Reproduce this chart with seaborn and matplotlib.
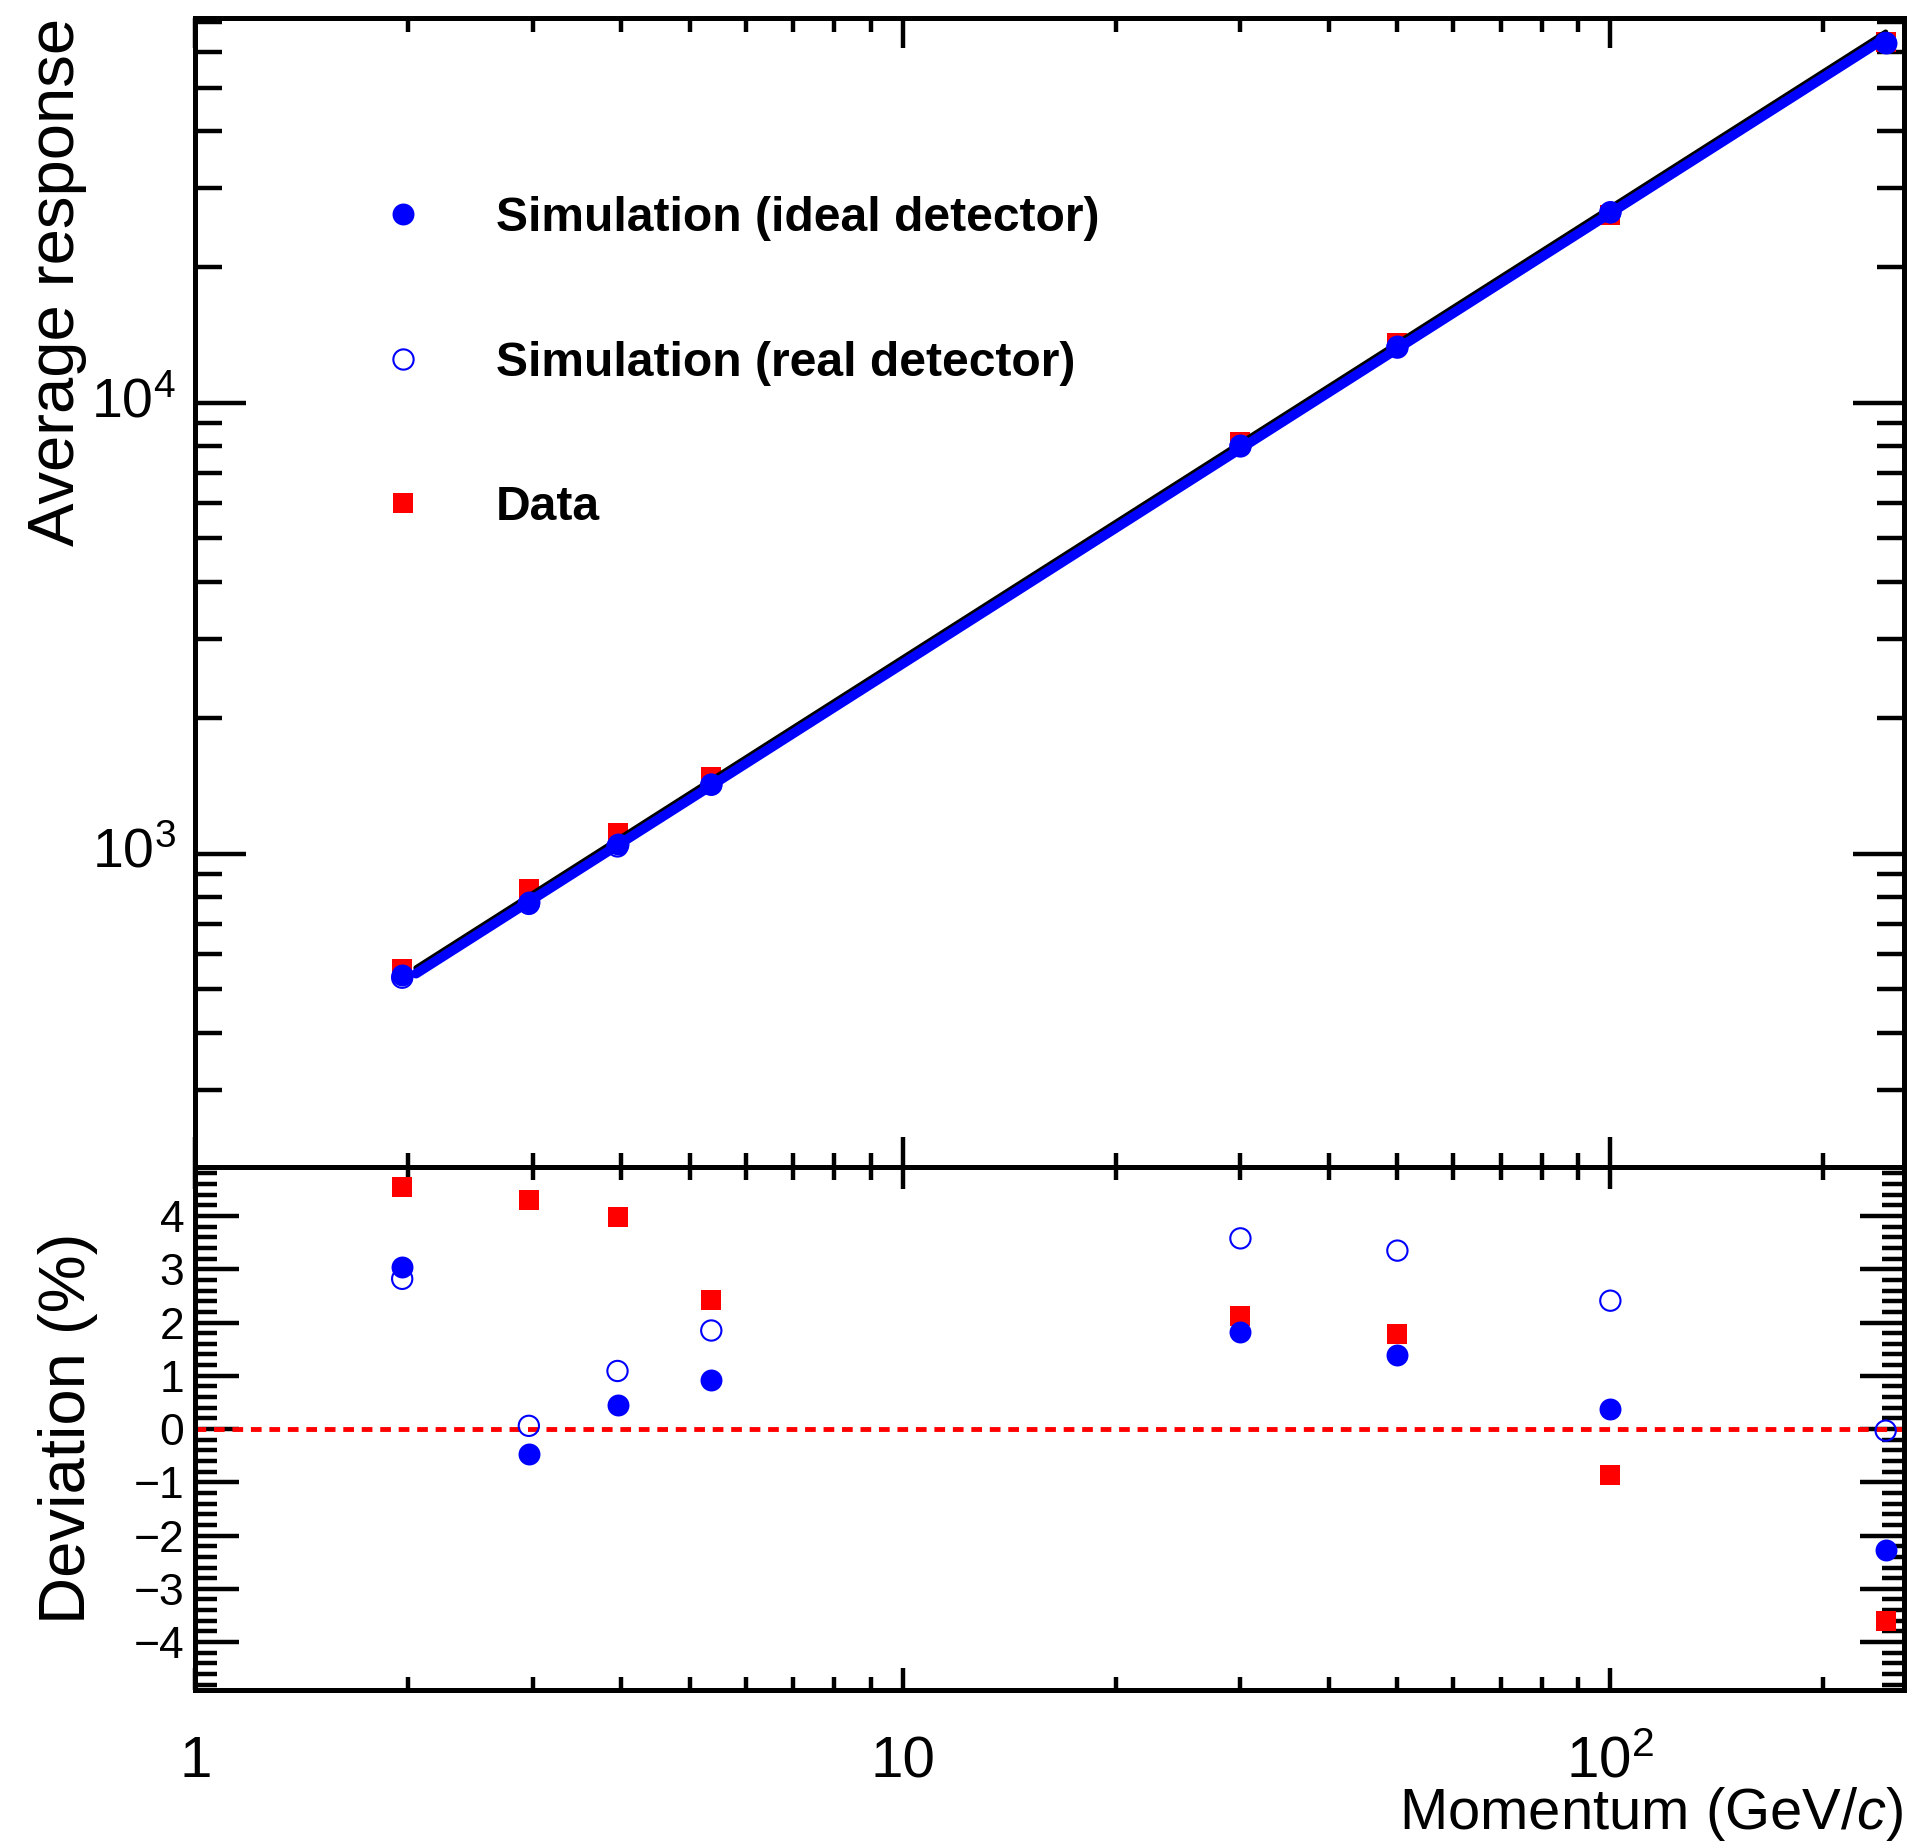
import numpy as np
import matplotlib
matplotlib.use("Agg")
import matplotlib.pyplot as plt
import seaborn as sns
from matplotlib.ticker import FixedLocator, FixedFormatter, NullFormatter, LogLocator, MultipleLocator
from matplotlib.lines import Line2D

# ---------------- data ----------------
momentum = [1.96, 2.96, 3.95, 5.36, 30, 50, 100, 245]
resp_ideal = [539, 780, 1053, 1429, 8041, 13330, 26420, 62900]
resp_real = [531, 774, 1038, 1422, 8000, 13250, 26450, 62800]
resp_data = [556, 835, 1111, 1480, 8166, 13565, 26120, 63200]

dev_ideal = [3.04, -0.46, 0.45, 0.93, 1.82, 1.39, 0.37, -2.28]
dev_real = [2.82, 0.06, 1.09, 1.85, 3.58, 3.35, 2.41, -0.03]
dev_data = [4.54, 4.30, 3.98, 2.43, 2.12, 1.79, -0.87, -3.61]

# power-law fits  a * p^b
fit_sim = [264.7, 0.9988]
fit_data = [272.6, 0.9988]
fit_range = [2.05, 245]

labels = ["Simulation (ideal detector)", "Simulation (real detector)", "Data"]
x_ticks = [1, 10, 100]
x_ticklabels = ["1", "10", r"$10^{2}$"]
y_ticks_top = [1000, 10000]
y_ticklabels_top = [r"$10^{3}$", r"$10^{4}$"]

# ---------------- style ----------------
sns.set_style("white")
plt.rcParams["font.family"] = ["Liberation Sans", "DejaVu Sans"]
plt.rcParams["mathtext.fontset"] = "custom"
plt.rcParams["mathtext.rm"] = "Liberation Sans"
plt.rcParams["mathtext.it"] = "Liberation Sans:italic"
plt.rcParams["mathtext.bf"] = "Liberation Sans:bold"
plt.rcParams["axes.unicode_minus"] = True
for k in ["text.color", "axes.labelcolor", "xtick.color", "ytick.color",
          "xtick.labelcolor", "ytick.labelcolor", "axes.edgecolor"]:
    plt.rcParams[k] = "black"

FRAME_LW = 3.6
TICK_W = 3.2

fig = plt.figure(figsize=(19.16, 18.42), dpi=100)
ax1 = fig.add_axes([0.1020, 0.36645, 0.8917, 0.62378])
ax2 = fig.add_axes([0.1020, 0.08252, 0.8917, 0.28393])

for ax in (ax1, ax2):
    ax.set_xscale("log")
    for s in ax.spines.values():
        s.set_linewidth(FRAME_LW)
        s.set_color("black")
        s.set_visible(True)
    ax.set_facecolor("white")
ax1.set_yscale("log")

# ---------------- upper panel ----------------
sns.scatterplot(x=momentum, y=resp_data, ax=ax1, marker="s", color="red",
                s=14.4 ** 2, linewidth=0, zorder=2)
p_line = np.geomspace(fit_range[0], fit_range[1], 60)
sns.lineplot(x=p_line, y=fit_data[0] * p_line ** fit_data[1], ax=ax1,
             color="black", lw=3.8, zorder=3)
sns.lineplot(x=p_line, y=fit_sim[0] * p_line ** fit_sim[1], ax=ax1,
             color="blue", lw=7.0, zorder=3.5)
sns.scatterplot(x=momentum, y=resp_real, ax=ax1, marker="o", facecolor="none",
                edgecolor="blue", color="blue", s=14.6 ** 2, linewidth=1.5, zorder=4)
sns.scatterplot(x=momentum, y=resp_ideal, ax=ax1, marker="o", color="blue",
                s=15.8 ** 2, linewidth=0, zorder=5)

ax1.set_xlim(1, 260)
ax1.set_ylim(202, 71300)
ax1.set_xlabel("")
ax1.set_ylabel("")

ax1.xaxis.set_major_locator(FixedLocator(x_ticks))
ax1.xaxis.set_minor_locator(LogLocator(base=10, subs=range(2, 10), numticks=20))
ax1.xaxis.set_major_formatter(NullFormatter())
ax1.xaxis.set_minor_formatter(NullFormatter())
ax1.yaxis.set_major_locator(FixedLocator(y_ticks_top))
ax1.yaxis.set_major_formatter(FixedFormatter(y_ticklabels_top))
ax1.yaxis.set_minor_locator(LogLocator(base=10, subs=range(2, 10), numticks=20))
ax1.yaxis.set_minor_formatter(NullFormatter())

ax1.tick_params(which="both", direction="in", top=True, bottom=True, left=True,
                right=True, labelbottom=False, width=TICK_W, color="black",
                labelcolor="black")
ax1.tick_params(axis="x", which="major", length=21.6)
ax1.tick_params(axis="x", which="minor", length=10)
ax1.tick_params(axis="y", which="major", length=37, labelsize=40, pad=14)
ax1.tick_params(axis="y", which="minor", length=19.5)
for lbl in ax1.get_yticklabels():
    lbl.set_va("center")

handles = [
    Line2D([], [], marker="o", ls="", color="blue", ms=15.8, mew=0),
    Line2D([], [], marker="o", ls="", mfc="none", mec="blue", mew=1.5, ms=14.6),
    Line2D([], [], marker="s", ls="", color="red", ms=14.4, mew=0),
]
leg = ax1.legend(handles, labels, loc="upper left", bbox_to_anchor=(0.107, 0.845),
                 frameon=False, borderpad=0, borderaxespad=0, handlelength=1.05,
                 handletextpad=1.4, labelspacing=2.07,
                 prop={"family": "Liberation Sans", "weight": "bold", "size": 34.6})
for t in leg.get_texts():
    t.set_color("black")

# ---------------- lower panel ----------------
ax2.axhline(0, color="red", ls=(0, (2.2, 1.6)), lw=3.5, zorder=1)
sns.scatterplot(x=momentum, y=dev_data, ax=ax2, marker="s", color="red",
                s=14.4 ** 2, linewidth=0, zorder=2)
sns.scatterplot(x=momentum, y=dev_real, ax=ax2, marker="o", facecolor="none",
                edgecolor="blue", color="blue", s=14.6 ** 2, linewidth=1.5, zorder=4)
sns.scatterplot(x=momentum, y=dev_ideal, ax=ax2, marker="o", color="blue",
                s=15.8 ** 2, linewidth=0, zorder=5)

ax2.set_xlim(1, 260)
ax2.set_ylim(-4.9, 4.92)
ax2.set_xlabel("")
ax2.set_ylabel("")

ax2.xaxis.set_major_locator(FixedLocator(x_ticks))
ax2.xaxis.set_major_formatter(FixedFormatter(x_ticklabels))
ax2.xaxis.set_minor_locator(LogLocator(base=10, subs=range(2, 10), numticks=20))
ax2.xaxis.set_minor_formatter(NullFormatter())
ax2.yaxis.set_major_locator(MultipleLocator(1))
ax2.yaxis.set_minor_locator(MultipleLocator(0.2))

ax2.tick_params(which="both", direction="in", top=True, bottom=True, left=True,
                right=True, width=TICK_W, color="black", labelcolor="black")
ax2.tick_params(axis="x", which="major", length=16, labelsize=42, pad=63)
ax2.tick_params(axis="x", which="minor", length=9.5)
ax2.tick_params(axis="y", which="major", length=32, labelsize=32, pad=8)
ax2.tick_params(axis="y", which="minor", length=16)
for lbl in ax2.get_xticklabels():
    lbl.set_va("baseline")

# ---------------- axis titles ----------------
fig.text(74 / 1916, 1 - 18 / 1842, "Average response", rotation=90,
         rotation_mode="anchor", ha="right", va="baseline", fontsize=47,
         color="black")
fig.text(85 / 1916, 1 - 1428 / 1842, "Deviation (%)", rotation=90,
         rotation_mode="anchor", ha="center", va="baseline", fontsize=47,
         color="black")
fig.text(0.9937, 1 - 1829 / 1842, r"Momentum (GeV/$c$)", ha="right",
         va="baseline", fontsize=41.8, color="black")

fig.savefig("out.png", dpi=100, facecolor="white")
